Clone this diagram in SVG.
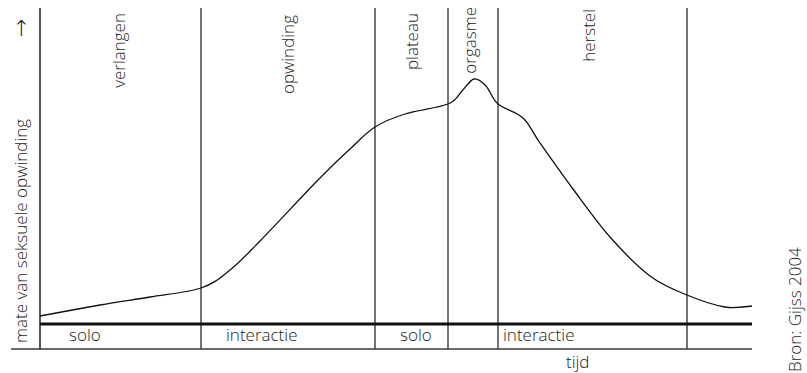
<svg xmlns="http://www.w3.org/2000/svg" width="807" height="373" viewBox="0 0 807 373">
<style>
text{font-family:"Open Sans","Noto Sans","Liberation Sans",sans-serif;font-size:17px;font-weight:350;fill:#1a1a1a}
.v{stroke:#3a3a3a;stroke-width:1.4;fill:none}
.ax{stroke:#111;stroke-width:1.4;fill:none}
.thick{stroke:#111;stroke-width:2.8;fill:none}
.curve{stroke:#111;stroke-width:1.3;fill:none}
</style>
<rect width="807" height="373" fill="#fff"/>
<g id="grid">
<line class="ax" x1="40" y1="8" x2="40" y2="349"/>
<line class="v" x1="201" y1="8" x2="201" y2="349"/>
<line class="v" x1="375" y1="8" x2="375" y2="349"/>
<line class="v" x1="448" y1="8" x2="448" y2="349"/>
<line class="v" x1="498" y1="8" x2="498" y2="349"/>
<line class="v" x1="687" y1="8" x2="687" y2="349"/>
<line class="thick" x1="40" y1="324" x2="752" y2="324"/>
<line class="v" x1="11" y1="349" x2="752" y2="349"/>
</g>
<g id="curve">
<path class="curve" d="M40,316 C50,314.2 81.7,308.2 100,305 C118.3,301.8 133.2,299.8 150,297 C166.8,294.2 187.7,292.5 201,288 C214.3,283.5 220.2,277.8 230,270 C239.8,262.2 245.3,256 260,241 C274.7,226 303,195.3 318,180 C333,164.7 340.5,157.8 350,149 C359.5,140.2 365.8,132.8 375,127 C384.2,121.2 392.8,117.8 405,114 C417.2,110.2 438.5,107.8 448,104 C457.5,100.2 457.7,95.2 462,91 C466.3,86.8 470,79.8 474,79 C478,78.2 482,81.8 486,86 C490,90.2 491.8,98.7 498,104 C504.2,109.3 516,111.5 523,118 C530,124.5 531.7,131.2 540,143 C548.3,154.8 561.3,173.3 573,189 C584.7,204.7 597.2,222.5 610,237 C622.8,251.5 637.2,266.3 650,276 C662.8,285.7 674.5,289.8 687,295 C699.5,300.2 714.2,305.2 725,307 C735.8,308.8 747.5,306.2 752,306"/>
</g>
<g id="phase-labels">
<text transform="translate(125,13) rotate(-90)" text-anchor="end">verlangen</text>
<text transform="translate(294,15) rotate(-90)" text-anchor="end">opwinding</text>
<text transform="translate(418,13) rotate(-90)" text-anchor="end">plateau</text>
<text transform="translate(476,7) rotate(-90)" text-anchor="end">orgasme</text>
<text transform="translate(595,9) rotate(-90)" text-anchor="end">herstel</text>
</g>
<g id="axis-labels">
<text transform="translate(27,343) rotate(-90)">mate van seksuele opwinding</text>
<text transform="translate(28,37) rotate(-90)" style="font-family:'DejaVu Sans',sans-serif;font-size:22px;font-weight:200">→</text>
<text x="566" y="368">tijd</text>
<text transform="translate(801,372) rotate(-90)">Bron: Gijss 2004</text>
</g>
<g id="mode-labels">
<text x="69" y="341">solo</text>
<text x="226" y="341">interactie</text>
<text x="400" y="341">solo</text>
<text x="503" y="341">interactie</text>
</g>
</svg>
